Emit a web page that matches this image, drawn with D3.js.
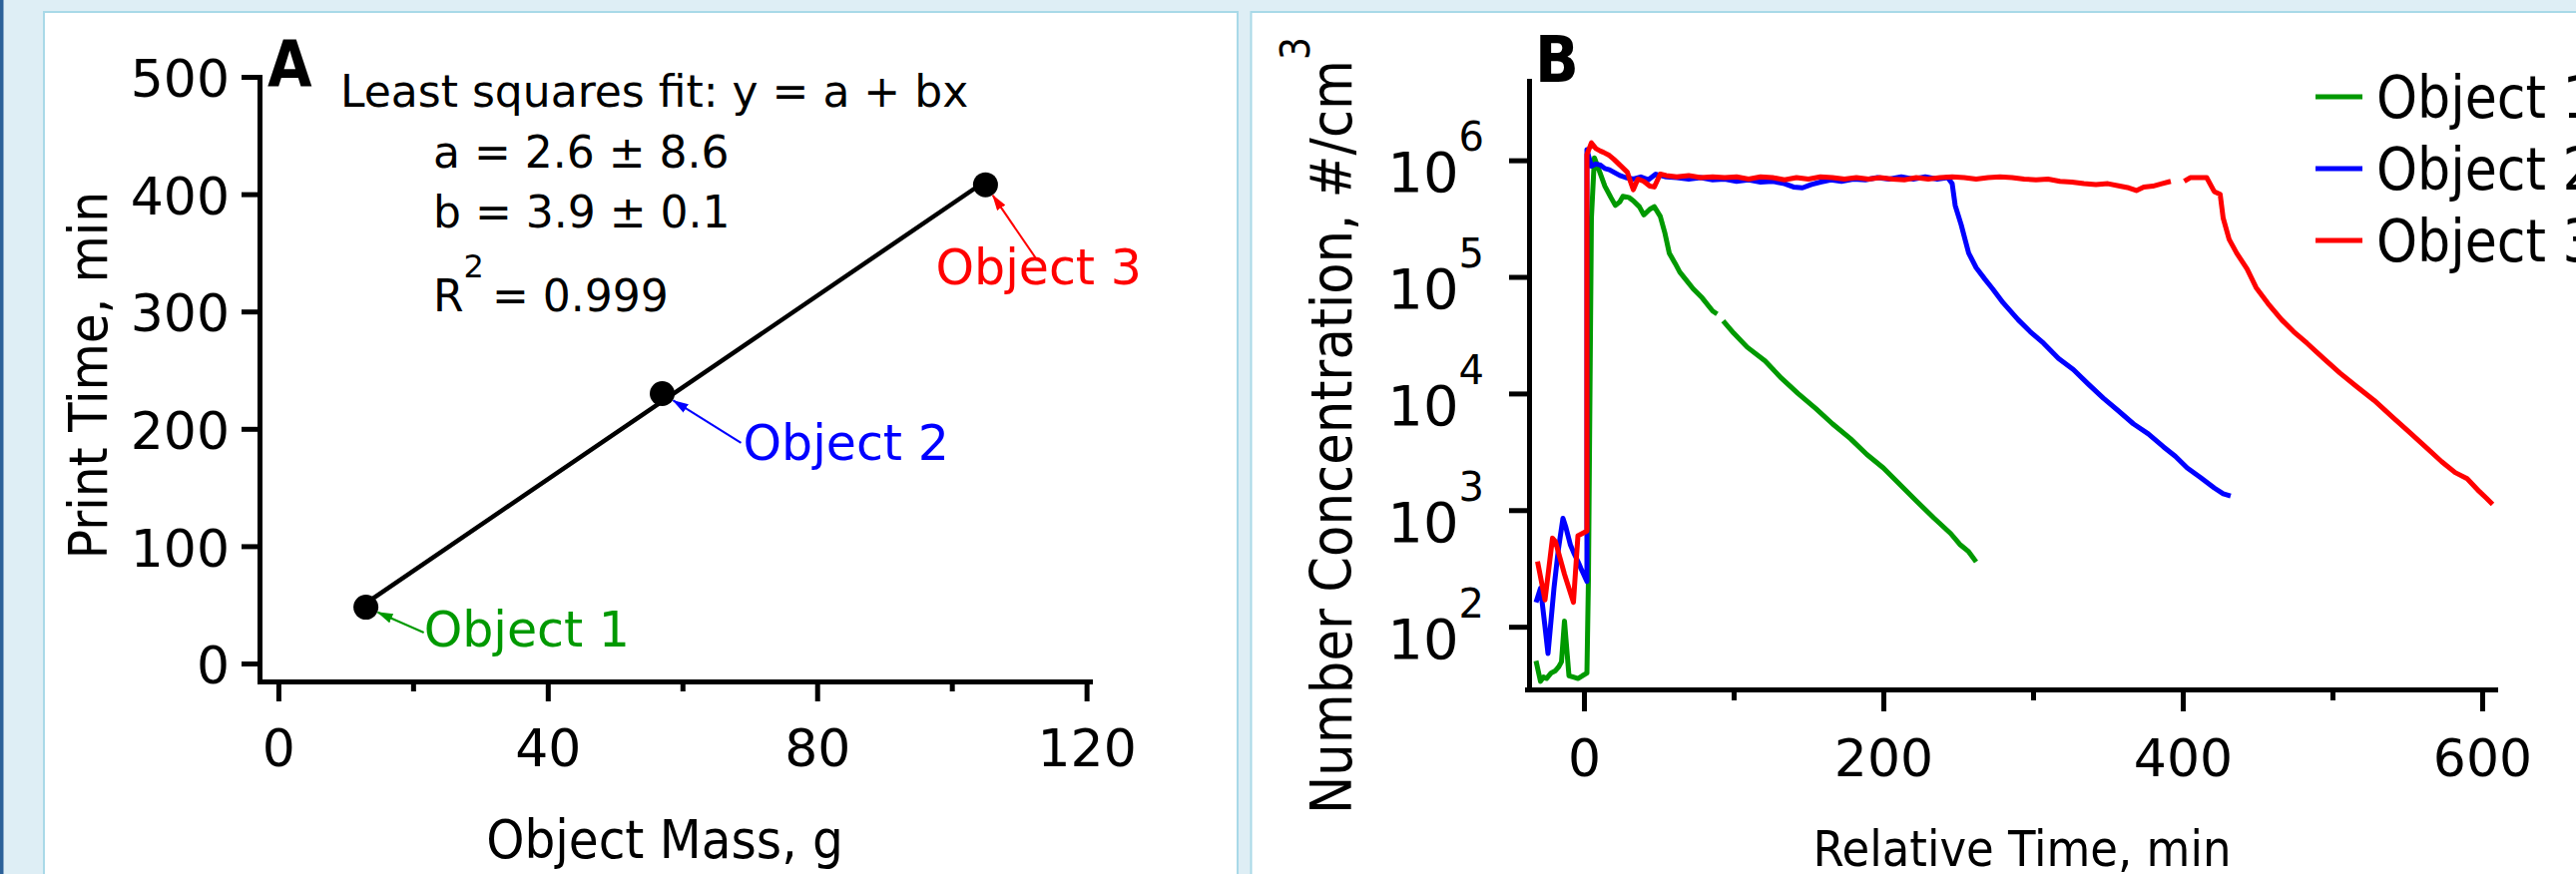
<!DOCTYPE html>
<html>
<meta charset="utf-8">
<head>
<title>Print time and particle number concentration</title>
<script src="https://cdn.jsdelivr.net/npm/d3@7"></script>
<style>
  body { margin: 0; background: #deeef5; }
  svg { display: block; }
</style>
</head>
<body>
<div id="chart"></div>
<script>

// ---- Panel A data: print time vs object mass
var objectNames = ["Object 1", "Object 2", "Object 3"];
var objectMass = [13, 57, 105];
var printTime = [48, 230, 408];
var fitLines = ["Least squares fit: y = a + bx", "a = 2.6 \u00b1 8.6", "b = 3.9 \u00b1 0.1"];
var r2Value = "= 0.999";
var massTicks = [0, 40, 80, 120];
var massMinor = [20, 60, 100];
var timeTicks = [0, 100, 200, 300, 400, 500];

// ---- Panel B data: number concentration (#/cm3) vs relative time (min)
var t1 = [-32, -29, -27, -25, -22, -19, -17, -15, -13, -10, -7, -4, -1, 2, 3, 5, 7, 10, 14, 18,
  21, 24, 26, 30, 33, 37, 40, 44, 47, 51, 54, 57, 61, 64, 68, 73, 79, 86, 89, 91,
  93, 100, 109, 121, 132, 143, 155, 166, 178, 189, 200, 211, 222, 234, 245, 251, 257, 262];
var n1 = [51, 34, 37, 36, 40, 42, 45, 50, 112, 38, 37, 36, 38, 40, 251, 3.2e5, 1.05e6, 8.3e5, 6.0e5, 4.8e5,
  4.1e5, 4.4e5, 4.9e5, 4.8e5, 4.5e5, 4.0e5, 3.4e5, 3.8e5, 4.0e5, 3.3e5, 2.4e5, 1.6e5, 1.3e5, 1.1e5, 9.5e4, 7.9e4, 6.6e4, 5.1e4, 4.8e4, null,
  4.2e4, 3.3e4, 2.5e4, 1.9e4, 1.35e4, 1.0e4, 7.4e3, 5.5e3, 4.1e3, 3.0e3, 2.3e3, 1.66e3, 1.2e3, 850, 630, 510, 440, 360];

var t2 = [-32, -29, -26, -24, -20, -17, -14, -12, -9, -7, -4, -2, 2, 2, 5, 8, 11, 14, 17, 20,
  24, 28, 33, 38, 43, 48, 55, 62, 70, 78, 86, 94, 102, 110, 118, 126, 134, 140, 146, 152,
  158, 165, 172, 180, 188, 196, 204, 212, 220, 228, 236, 243, 246, 248, 252, 257, 262, 268, 273, 280,
  290, 298, 307, 317, 327, 337, 347, 357, 367, 377, 387, 395, 403, 412, 421, 427, 432];
var n2 = [162, 214, 100, 59, 214, 468, 851, 708, 501, 437, 363, 316, 245, 1.23e6, 8.9e5, 9.3e5, 9.1e5, 8.5e5, 8.3e5, 7.9e5,
  7.4e5, 7.1e5, 6.9e5, 7.2e5, 6.8e5, 7.6e5, 7.2e5, 7.1e5, 6.9e5, 7.1e5, 6.8e5, 6.9e5, 6.6e5, 6.8e5, 6.5e5, 6.6e5, 6.3e5, 5.9e5, 5.8e5, 6.2e5,
  6.5e5, 6.8e5, 6.6e5, 6.9e5, 6.8e5, 7.1e5, 6.9e5, 7.2e5, 6.9e5, 7.2e5, 6.9e5, 7.1e5, 6.3e5, 4.1e5, 2.8e5, 1.6e5, 1.2e5, 9.5e4, 7.9e4, 6.0e4,
  4.3e4, 3.4e4, 2.7e4, 2.0e4, 1.6e4, 1.2e4, 9.1e3, 7.1e3, 5.5e3, 4.5e3, 3.5e3, 2.9e3, 2.3e3, 1.9e3, 1.55e3, 1.38e3, 1.32e3];

var t3 = [-31, -26, -21, -19, -13, -7, -4, 2, 2, 5, 8, 11, 13, 17, 20, 24, 29, 31, 33, 36,
  40, 44, 47, 51, 55, 62, 70, 78, 86, 94, 102, 110, 118, 126, 134, 142, 150, 158, 166, 174,
  182, 190, 198, 206, 214, 222, 230, 238, 246, 254, 262, 270, 278, 286, 294, 302, 310, 318, 326, 334,
  342, 350, 358, 364, 369, 374, 380, 386, 392, 397, 401, 405, 416, 421, 425, 427, 431, 436, 443, 449,
  457, 466, 474, 483, 494, 505, 516, 528, 540, 551, 562, 573, 582, 590, 598, 603, 607];
var n3 = [363, 170, 575, 537, 282, 162, 603, 661, 1.12e6, 1.41e6, 1.26e6, 1.2e6, 1.17e6, 1.1e6, 1.02e6, 9.1e5, 7.9e5, 6.6e5, 5.6e5, 6.9e5,
  6.6e5, 6.0e5, 5.9e5, 7.6e5, 7.4e5, 7.2e5, 7.4e5, 7.1e5, 7.2e5, 7.1e5, 7.2e5, 6.9e5, 7.2e5, 7.1e5, 6.8e5, 7.1e5, 6.9e5, 7.2e5, 7.1e5, 6.9e5,
  7.1e5, 6.9e5, 7.1e5, 6.9e5, 6.8e5, 7.1e5, 6.9e5, 7.1e5, 7.2e5, 7.1e5, 6.9e5, 7.1e5, 7.2e5, 7.1e5, 6.9e5, 6.8e5, 6.9e5, 6.6e5, 6.5e5, 6.3e5,
  6.2e5, 6.3e5, 6.0e5, 5.8e5, 5.5e5, 5.9e5, 6.0e5, 6.3e5, 6.6e5, null, 6.6e5, 7.1e5, 7.1e5, 5.4e5, 5.1e5, 3.2e5, 2.1e5, 1.6e5, 1.17e5, 8.1e4,
  5.9e4, 4.3e4, 3.4e4, 2.7e4, 2.0e4, 1.5e4, 1.15e4, 8.7e3, 6.3e3, 4.7e3, 3.5e3, 2.6e3, 2.1e3, 1.86e3, 1.45e3, 1.26e3, 1.12e3];

var relTicks = [0, 200, 400, 600];
var relMinor = [100, 300, 500];
var concTicks = [1e2, 1e3, 1e4, 1e5, 1e6];

// styles
var colors = ["#009900", "#0000ff", "#ff0000"];
var numFont = "'DejaVu Sans', sans-serif";
var condFont = "'DejaVu Sans Condensed', 'DejaVu Sans', sans-serif";

// annotation anchors for panel A, in data units (mass, time)
var labelAt = [[21.6, 14.5], [69.0, 173.5], [97.6, 323]];
var arrowFrom = [[21.6, 26.4], [68.7, 188], [112.4, 346]];

var W = 2581, H = 876;

var svg = d3.select("#chart").append("svg")
  .attr("width", W)
  .attr("height", H);

// page background, side strip and two panels
svg.append("rect").attr("width", W).attr("height", H).attr("fill", "#deeef5");
svg.append("rect").attr("width", 3.5).attr("height", H).attr("fill", "#2c6199");
svg.append("rect").attr("x", 44).attr("y", 12).attr("width", 1196).attr("height", H)
  .attr("fill", "#fff").attr("stroke", "#a9d9e8").attr("stroke-width", 2);
svg.append("rect").attr("x", 1253.5).attr("y", 12).attr("width", W).attr("height", H)
  .attr("fill", "#fff").attr("stroke", "#a9d9e8").attr("stroke-width", 2);

function styleAxis(g, sw) {
  g.attr("font-family", numFont).attr("font-size", 52);
  g.selectAll("path, line").attr("stroke", "#000").attr("stroke-width", sw);
  g.select(".domain").attr("stroke-linecap", "square");
  g.selectAll("text").attr("fill", "#000");
}

// ================= Panel A =================
var xA = d3.scaleLinear().domain([-2.8, 120.5]).range([260, 1092]);
var yA = d3.scaleLinear().domain([-15.3, 500]).range([683, 77]);

svg.append("g")
  .attr("transform", "translate(0,683)")
  .call(d3.axisBottom(xA).tickValues(massMinor).tickSize(10).tickFormat(""))
  .call(function(g) { g.select(".domain").remove(); g.selectAll("line").attr("stroke", "#000").attr("stroke-width", 5); });

svg.append("g")
  .attr("transform", "translate(0,683)")
  .call(d3.axisBottom(xA).tickValues(massTicks).tickSize(20).tickSizeOuter(0).tickPadding(28))
  .call(styleAxis, 5);

svg.append("g")
  .attr("transform", "translate(260,0)")
  .call(d3.axisLeft(yA).tickValues(timeTicks).tickSize(18).tickSizeOuter(0).tickPadding(12))
  .call(styleAxis, 5)
  .selectAll("text").attr("dy", "0.38em");

// least squares line computed from the points
var mx = d3.mean(objectMass), my = d3.mean(printTime);
var slope = d3.sum(objectMass, function(m, i) { return (m - mx) * (printTime[i] - my); }) /
            d3.sum(objectMass, function(m) { return (m - mx) * (m - mx); });
var icpt = my - slope * mx;
var massExt = d3.extent(objectMass);

svg.append("path")
  .datum(massExt)
  .attr("d", d3.line().x(function(m) { return xA(m); }).y(function(m) { return yA(icpt + slope * m); }))
  .attr("stroke", "#000").attr("stroke-width", 4.5).attr("fill", "none");

svg.selectAll(".pt")
  .data(objectMass)
  .enter().append("circle")
  .attr("cx", function(m) { return xA(m); })
  .attr("cy", function(m, i) { return yA(printTime[i]); })
  .attr("r", 12.5)
  .attr("fill", "#000");

// arrow heads
var defs = svg.append("defs");
colors.forEach(function(c, i) {
  defs.append("marker")
    .attr("id", "arr" + i)
    .attr("markerUnits", "userSpaceOnUse")
    .attr("markerWidth", 16).attr("markerHeight", 10)
    .attr("refX", 15).attr("refY", 5)
    .attr("orient", "auto")
    .append("path").attr("d", "M0,0 L16,5 L0,10 Z").attr("fill", c);
});

objectNames.forEach(function(name, i) {
  var px = xA(objectMass[i]), py = yA(printTime[i]);
  var tx = xA(arrowFrom[i][0]), ty = yA(arrowFrom[i][1]);
  var len = Math.hypot(tx - px, ty - py);
  var hx = px + (tx - px) / len * 13, hy = py + (ty - py) / len * 13;
  svg.append("line")
    .attr("x1", tx).attr("y1", ty).attr("x2", hx).attr("y2", hy)
    .attr("stroke", colors[i]).attr("stroke-width", 2)
    .attr("marker-end", "url(#arr" + i + ")");
  svg.append("text")
    .attr("x", xA(labelAt[i][0])).attr("y", yA(labelAt[i][1]))
    .attr("font-family", numFont).attr("font-size", 49)
    .attr("fill", colors[i])
    .text(name);
});

// fit annotation
var fitX = [341, 434, 434];
var fitY = [107, 168, 228];
fitLines.forEach(function(s, i) {
  svg.append("text").attr("x", fitX[i]).attr("y", fitY[i])
    .attr("font-family", numFont).attr("font-size", 44).text(s);
});
var r2 = svg.append("text").attr("x", 434).attr("y", 312)
  .attr("font-family", numFont).attr("font-size", 44);
r2.append("tspan").text("R");
r2.append("tspan").attr("dy", -34).attr("font-size", 32).text("2");
r2.append("tspan").attr("dy", 34).attr("dx", 8).text(r2Value);

svg.append("text").attr("x", 268).attr("y", 87)
  .attr("font-family", condFont).attr("font-weight", "bold").attr("font-size", 64).text("A");

svg.append("text")
  .attr("transform", "translate(107,376) rotate(-90)")
  .attr("text-anchor", "middle")
  .attr("font-family", condFont).attr("font-size", 54)
  .text("Print Time, min");

svg.append("text").attr("x", 666).attr("y", 860)
  .attr("text-anchor", "middle")
  .attr("font-family", condFont).attr("font-size", 54)
  .text("Object Mass, g");

// ================= Panel B =================
var xB = d3.scaleLinear().domain([-38, 608.7]).range([1530, 2500]);
var yB = d3.scaleLog().domain([29, 4.8e6]).range([691, 81]);

svg.append("g")
  .attr("transform", "translate(0,691)")
  .call(d3.axisBottom(xB).tickValues(relMinor).tickSize(11).tickFormat(""))
  .call(function(g) { g.select(".domain").remove(); g.selectAll("line").attr("stroke", "#000").attr("stroke-width", 5); });

svg.append("g")
  .attr("transform", "translate(0,691)")
  .call(d3.axisBottom(xB).tickValues(relTicks).tickSize(22).tickSizeOuter(0).tickPadding(28))
  .call(styleAxis, 5);

svg.append("g")
  .attr("transform", "translate(1532,0)")
  .call(d3.axisLeft(yB).tickValues(concTicks).tickSize(20).tickSizeOuter(0).tickPadding(25)
    .tickFormat(function() { return "10"; }))
  .call(styleAxis, 5)
  .selectAll(".tick text")
  .attr("dy", 31).attr("font-size", 56)
  .append("tspan")
  .attr("dy", -41).attr("font-size", 40)
  .text(function(d) { return Math.round(Math.log10(d)); });

var series = [[t1, n1], [t2, n2], [t3, n3]].map(function(s) {
  return s[0].map(function(t, i) { return {t: t, n: s[1][i]}; });
});

var line = d3.line()
  .defined(function(d) { return d.n != null; })
  .x(function(d) { return xB(d.t); })
  .y(function(d) { return yB(d.n); });

svg.selectAll(".series")
  .data(series)
  .enter().append("path")
  .attr("d", line)
  .attr("fill", "none")
  .attr("stroke", function(d, i) { return colors[i]; })
  .attr("stroke-width", 5)
  .attr("stroke-linejoin", "round");

// legend
var leg = svg.selectAll(".leg")
  .data(objectNames)
  .enter().append("g")
  .attr("transform", function(d, i) { return "translate(2320," + (97 + i * 72) + ")"; });
leg.append("line").attr("x1", 0).attr("x2", 47)
  .attr("stroke", function(d, i) { return colors[i]; }).attr("stroke-width", 5);
leg.append("text").attr("x", 61).attr("y", 21)
  .attr("font-family", condFont).attr("font-size", 58)
  .text(function(d) { return d; });

svg.append("text").attr("x", 1538).attr("y", 82)
  .attr("font-family", condFont).attr("font-weight", "bold").attr("font-size", 64).text("B");

var yt = svg.append("text")
  .attr("transform", "translate(1354,816) rotate(-90)")
  .attr("font-family", condFont).attr("font-size", 57);
yt.append("tspan").text("Number Concentration, #/cm");
yt.append("tspan").attr("dy", -42).attr("font-size", 40).text("3");

svg.append("text").attr("x", 2026).attr("y", 868)
  .attr("text-anchor", "middle")
  .attr("font-family", condFont).attr("font-size", 50)
  .text("Relative Time, min");

</script>
</body>
</html>
